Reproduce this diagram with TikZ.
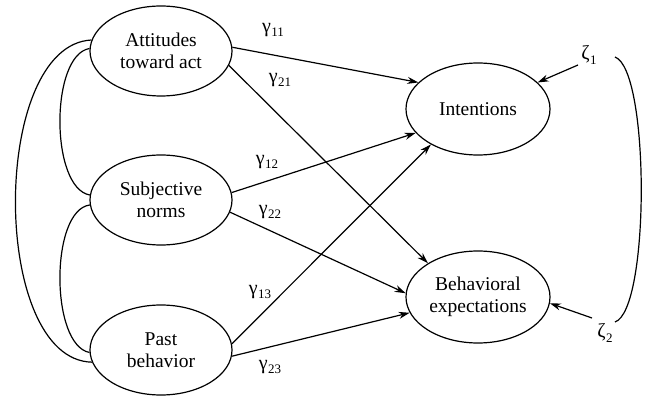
\documentclass[tikz,border=0pt]{standalone}
\usepackage{fontspec}
\setmainfont{Liberation Serif}
\usetikzlibrary{shapes.geometric,arrows.meta}
\newcommand{\gsub}[2]{#1\kern0.5pt\raisebox{-4.5pt}{\fontsize{13}{13}\selectfont #2}}
\begin{document}
\begin{tikzpicture}[x=1pt,y=-1pt,
  lat/.style={draw,ellipse,line width=1.2pt,minimum width=142pt,minimum height=90pt,inner sep=0pt,align=center,font=\fontsize{19.5}{22}\selectfont},
  path/.style={line width=1.2pt,-{Stealth[length=11pt,width=7pt]}},
  cov/.style={line width=1.2pt},
  lab/.style={inner sep=0pt,font=\fontsize{20}{22}\selectfont}]
\useasboundingbox (0,0) rectangle (645,398);
\node[lat] (att) at (161,51) {Attitudes\\toward act};
\node[lat] (subj) at (161,200) {Subjective\\norms};
\node[lat] (past) at (161,350) {Past\\behavior};
\node[lat,minimum width=144pt,minimum height=92pt] (int) at (478,109) {Intentions};
\node[lat,minimum width=144pt,minimum height=92pt] (beh) at (478,297) {Behavioral\\expectations};
\node[lab] (z1) at (589,55) {\gsub{ζ}{1}};
\node[lab] (z2) at (605,333) {\gsub{ζ}{2}};
\node[lab] (g11) at (273,30) {\gsub{γ}{11}};
\node[lab] (g21) at (280,80) {\gsub{γ}{21}};
\node[lab] (g12) at (267,162) {\gsub{γ}{12}};
\node[lab] (g22) at (270,212) {\gsub{γ}{22}};
\node[lab] (g13) at (260,292) {\gsub{γ}{13}};
\node[lab] (g23) at (270,367) {\gsub{γ}{23}};
\coordinate (b1) at (615,57);
\coordinate (b2) at (615,322);
\coordinate (z1s) at (578,65);
\coordinate (z2s) at (592,318);
% structural paths
\draw[path] (att.3) -- (int.156);
\draw[path] (att.-12) -- (beh.146);
\draw[path] (subj.6) -- (int.201);
\draw[path] (subj.-10) -- (beh.177);
\draw[path] (past.5) -- (int.217);
\draw[path] (past.-5) -- (beh.193);
% disturbances
\draw[path] (z1s) -- (int.24);
\draw[path] (z2s) -- (beh.-5);
% covariances
\draw[cov] (att.171) .. controls (-10,45) and (-10,360) .. (past.190);
\draw[cov] (att.178) .. controls (50,55) and (50,188) .. (subj.176);
\draw[cov] (subj.184) .. controls (50,210) and (50,345) .. (past.182);
\draw[cov] (b1) .. controls (650,70) and (650,310) .. (b2);
\end{tikzpicture}
\end{document}
